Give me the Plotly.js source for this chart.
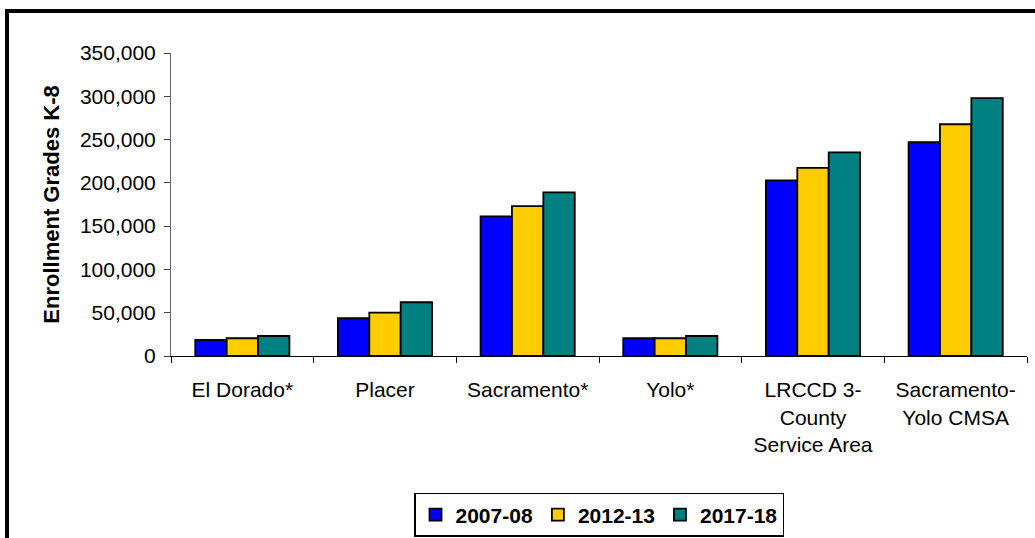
<!DOCTYPE html>
<html>
<head>
<meta charset="utf-8">
<script src="https://cdn.plot.ly/plotly-3.0.1.min.js"></script>
<style>
  html, body { margin: 0; padding: 0; background: #fff; }
  #wrap { position: relative; width: 1035px; height: 538px; overflow: hidden; }
  #chart { width: 1035px; height: 538px; }
  #frame { position: absolute; left: 5px; top: 9px; width: 1100px; height: 600px;
           border-top: 4px solid #000; border-left: 4px solid #000; pointer-events: none; }
</style>
</head>
<body>
<div id="wrap">
  <div id="chart"></div>
  <div id="frame"></div>
</div>
<script>
const categories = [
  "El Dorado*",
  "Placer",
  "Sacramento*",
  "Yolo*",
  "LRCCD 3-<br>County<br>Service Area",
  "Sacramento-<br>Yolo CMSA"
];
const seriesNames = ["2007-08", "2012-13", "2017-18"];
const values2007 = [18500, 43600, 161200, 20500, 202900, 246900];
const values2012 = [20500, 50100, 173200, 20500, 217200, 267700];
const values2017 = [23100, 62100, 189000, 23100, 235300, 297800];
const seriesColors = ["#0000FF", "#FFCC00", "#008080"];
const yTickVals = [0, 50000, 100000, 150000, 200000, 250000, 300000, 350000];
const yTickText = ["0", "50,000", "100,000", "150,000", "200,000", "250,000", "300,000", "350,000"];

const allValues = [values2007, values2012, values2017];
const traces = allValues.map((vals, i) => ({
  type: "bar",
  name: seriesNames[i],
  x: categories,
  y: vals,
  marker: { color: seriesColors[i], line: { color: "#000", width: 1.8 } },
  hoverinfo: "x+y+name"
}));

const FONT = "Arial, 'Liberation Sans', sans-serif";

const layout = {
  width: 1035,
  height: 538,
  paper_bgcolor: "#fff",
  plot_bgcolor: "#fff",
  margin: { l: 171, r: 8, t: 53, b: 182, pad: 0, autoexpand: false },
  barmode: "group",
  bargap: 0.34,
  bargroupgap: 0,
  font: { family: FONT, color: "#000", size: 21 },
  xaxis: {
    type: "category",
    showline: true,
    linecolor: "#000",
    linewidth: 1,
    ticks: "outside",
    tickson: "boundaries",
    ticklen: 6,
    tickcolor: "#000",
    tickfont: { size: 21, color: "#000", family: FONT },
    ticklabelstandoff: 15,
    showgrid: false,
    zeroline: false,
    automargin: false,
    fixedrange: true
  },
  yaxis: {
    range: [0, 350000],
    tickvals: yTickVals,
    ticktext: yTickText,
    showline: true,
    linecolor: "#666",
    linewidth: 1,
    ticks: "outside",
    ticklen: 6,
    tickcolor: "#444",
    tickfont: { size: 21, color: "#000", family: FONT },
    ticklabelstandoff: 4,
    showgrid: false,
    zeroline: false,
    automargin: false,
    fixedrange: true,
    title: { text: "Enrollment Grades K-8", font: { size: 22, color: "#000", family: FONT, weight: "bold" }, standoff: 14 }
  },
  showlegend: true,
  legend: {
    orientation: "h",
    x: 0.5,
    xanchor: "center",
    y: -0.452,
    yanchor: "top",
    bgcolor: "#fff",
    bordercolor: "#000",
    borderwidth: 1.5,
    font: { size: 21, color: "#000", weight: "bold", family: FONT },
    itemwidth: 30,
    traceorder: "normal"
  }
};

Plotly.newPlot("chart", traces, layout, { displayModeBar: false, staticPlot: true });
</script>
</body>
</html>
